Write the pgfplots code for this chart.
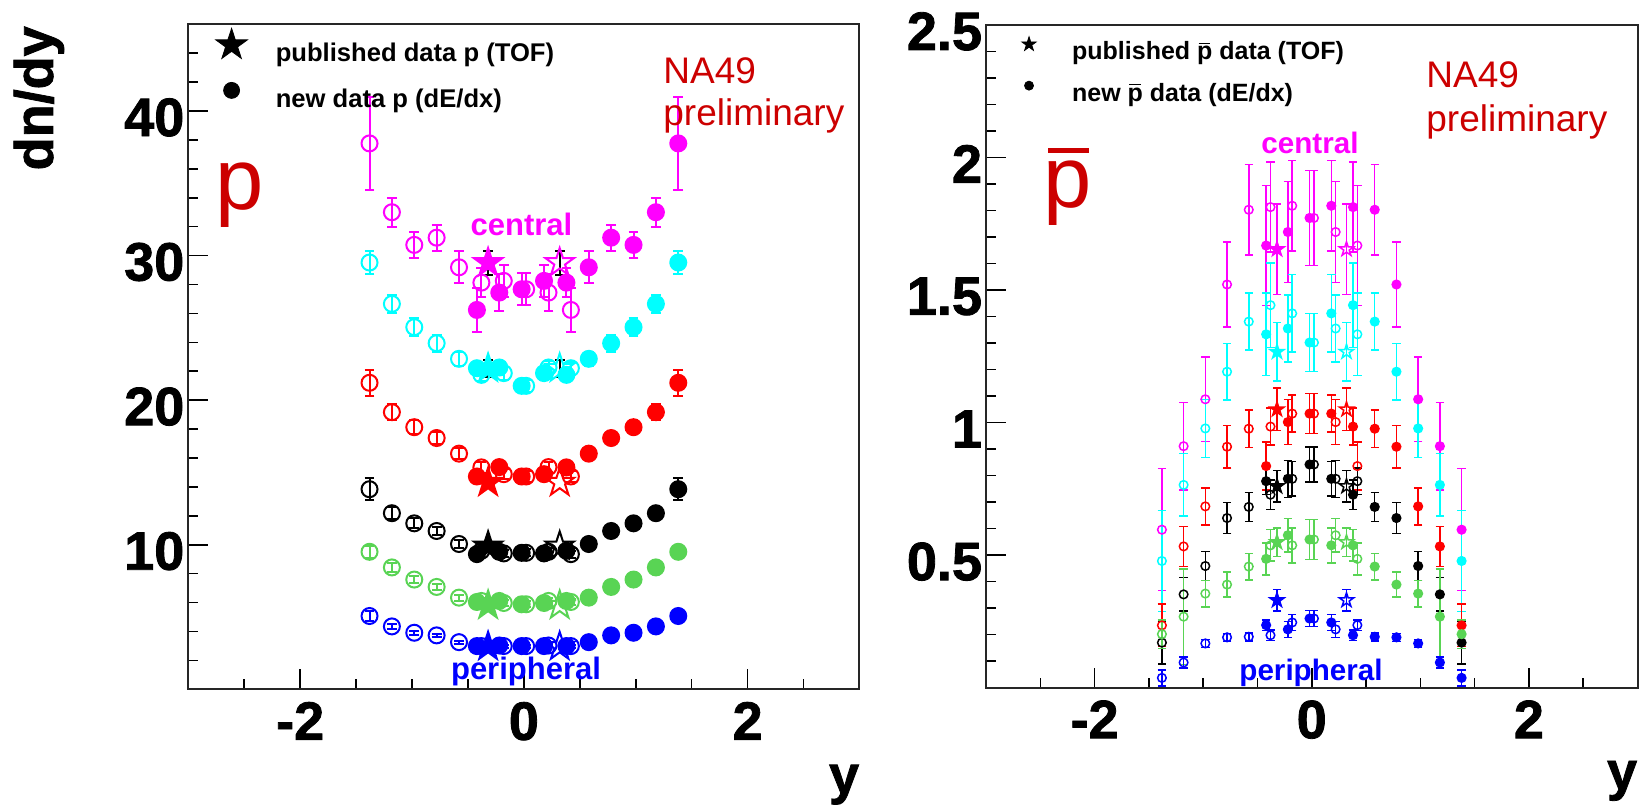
\documentclass[border=0pt]{standalone}
\usepackage{pgfplots}
\pgfplotsset{compat=1.18}
\usepackage{pgfplotstable}
\usepackage{fontspec}
\setmainfont{Liberation Sans}
\newfontfamily\heavy{Liberation Sans}[BoldFeatures={FakeBold=1.5}]

\definecolor{cmag}{RGB}{255,0,255}
\definecolor{ccya}{RGB}{0,255,255}
\definecolor{cred}{RGB}{255,0,0}
\definecolor{cblk}{RGB}{0,0,0}
\definecolor{cgrn}{RGB}{89,212,84}
\definecolor{cblu}{RGB}{0,0,255}
\definecolor{nared}{RGB}{204,0,0}

% five-pointed star marks: outline and filled
\newcommand\starpath{%
  \pgfpathmoveto{\pgfpointpolar{90}{\pgfplotmarksize}}%
  \pgfpathlineto{\pgfpointpolar{126}{0.382\pgfplotmarksize}}%
  \pgfpathlineto{\pgfpointpolar{162}{\pgfplotmarksize}}%
  \pgfpathlineto{\pgfpointpolar{198}{0.382\pgfplotmarksize}}%
  \pgfpathlineto{\pgfpointpolar{234}{\pgfplotmarksize}}%
  \pgfpathlineto{\pgfpointpolar{270}{0.382\pgfplotmarksize}}%
  \pgfpathlineto{\pgfpointpolar{306}{\pgfplotmarksize}}%
  \pgfpathlineto{\pgfpointpolar{342}{0.382\pgfplotmarksize}}%
  \pgfpathlineto{\pgfpointpolar{18}{\pgfplotmarksize}}%
  \pgfpathlineto{\pgfpointpolar{54}{0.382\pgfplotmarksize}}%
  \pgfpathclose}
\pgfdeclareplotmark{fstar}{\starpath\pgfusepathqstroke}
\pgfdeclareplotmark{fstar*}{\starpath\pgfusepathqfillstroke}

% p with an overbar (antiproton)
\newcommand\pbar{\leavevmode\rlap{\hspace{0.06em}\raisebox{0.63em}{\rule{0.47em}{0.06em}}}p}

% proton dN/dy: filled points measured, open points reflected at y=0
\pgfplotstableread{
x     mag   emag  cya   ecya  red   ered  blk   eblk  grn   egrn  blu   eblu
-0.42 26.24 1.5   22.21 0.45  14.72 0.35  9.35  0.25  6.04  0.20  2.99  0.10
-0.22 27.44 1.3   22.26 0.45  15.37 0.35  9.51  0.25  6.11  0.20  3.03  0.10
-0.02 27.67 1.1   20.99 0.40  14.72 0.35  9.44  0.25  5.88  0.20  2.99  0.10
0.18  28.25 1.1   21.87 0.45  14.88 0.35  9.40  0.25  5.97  0.20  2.99  0.10
0.38  28.13 1.0   21.75 0.45  15.35 0.40  9.58  0.25  6.11  0.20  2.99  0.10
0.58  29.19 1.1   22.86 0.48  16.30 0.40  10.05 0.27  6.34  0.20  3.26  0.11
0.78  31.24 0.9   23.94 0.58  17.38 0.43  10.95 0.31  7.08  0.23  3.73  0.12
0.98  30.74 0.9   25.05 0.63  18.13 0.49  11.48 0.35  7.59  0.27  3.91  0.15
1.18  33.00 1.0   26.66 0.63  19.17 0.54  12.18 0.40  8.43  0.31  4.35  0.17
1.38  37.76 3.2   29.52 0.77  21.20 0.90  13.84 0.75  9.51  0.43  5.07  0.34
}\protons

% antiproton dN/dy
\pgfplotstableread{
x     mag   emag  cya   ecya  red   ered  blk   eblk  grn   egrn  blu   eblu
-0.42 1.668 0.227 1.333 0.155 0.836 0.090 0.779 0.050 0.486 0.060 0.236 0.020
-0.22 1.719 0.190 1.355 0.126 1.002 0.085 0.788 0.070 0.575 0.063 0.220 0.030
-0.02 1.772 0.180 1.302 0.110 1.034 0.076 0.842 0.066 0.559 0.076 0.261 0.030
0.18  1.818 0.170 1.412 0.146 1.034 0.070 0.788 0.065 0.537 0.066 0.246 0.030
0.38  1.813 0.170 1.443 0.160 0.985 0.070 0.728 0.055 0.537 0.060 0.198 0.020
0.58  1.803 0.170 1.381 0.107 0.977 0.070 0.682 0.055 0.457 0.050 0.192 0.015
0.78  1.521 0.160 1.192 0.107 0.909 0.080 0.640 0.058 0.389 0.047 0.190 0.015
0.98  1.088 0.160 0.978 0.110 0.684 0.070 0.459 0.054 0.355 0.050 0.167 0.015
1.18  0.911 0.165 0.765 0.118 0.533 0.076 0.352 0.063 0.268 0.180 0.095 0.020
1.38  0.596 0.230 0.478 0.190 0.235 0.080 0.170 0.080 0.202 0.054 0.037 0.030
}\antiprotons

\pgfplotsset{
  panel/.style={
    scale only axis, anchor=south west,
    xmin=-3, xmax=3, ymin=0,
    axis line style={line width=1pt, black!85},
    tick align=inside, tick pos=left,
    major tick length=10pt, minor tick length=5pt,
    tick style={line width=0.8pt, black},
    xtick={-2,0,2}, xticklabels={-2,0,2},
    minor xtick={-2.5,-1.5,-1,-0.5,0.5,1,1.5,2.5},
    tick label style={font=\fontsize{27}{27}\selectfont\heavy\bfseries},
    xticklabel style={inner sep=0pt, anchor=north, yshift=-6.2pt},
    yticklabel style={inner sep=0pt, anchor=east, xshift=-1.8pt, yshift=-3.2pt},
    legend cell align=left,
    legend image code/.code={\draw[##1] plot coordinates {(0pt,4.5pt)};},
  },
  errL/.style={error bars/y dir=both, error bars/y explicit,
    error bars/error bar style={line width=1pt},
    error bars/error mark options={rotate=90, mark size=2.45pt, line width=1pt}},
  errLk/.style={error bars/y dir=both, error bars/y explicit,
    error bars/error bar style={line width=1pt, black},
    error bars/error mark options={rotate=90, mark size=2.45pt, line width=1pt, black}},
  errR/.style={error bars/y dir=both, error bars/y explicit,
    error bars/error bar style={line width=0.75pt},
    error bars/error mark options={rotate=90, mark size=2.1pt, line width=0.75pt}},
}

% one centrality class: reflected (open) and measured (filled) points
\newcommand\serL[3]{%
  \addplot[forget plot, only marks, mark=o, color=#1, mark size=4pt, mark options={line width=1pt}, errL]
    table[x expr=-\thisrow{x}, y=#2, y error=#3]{\protons};
  \addplot[forget plot, only marks, mark=*, color=#1, mark size=4pt, mark options={line width=1pt}, errL]
    table[x=x, y=#2, y error=#3]{\protons};}
\newcommand\serR[3]{%
  \addplot[forget plot, only marks, mark=o, color=#1, mark size=2.15pt, mark options={line width=0.75pt}, errR]
    table[x expr=-\thisrow{x}, y=#2, y error=#3]{\antiprotons};
  \addplot[forget plot, only marks, mark=*, color=#1, mark size=2.15pt, mark options={line width=0.75pt}, errR]
    table[x=x, y=#2, y error=#3]{\antiprotons};}
% published TOF points (filled) and their reflection (open)
\newcommand\starLe[3]{%
  \addplot[forget plot, only marks, mark=fstar*, color=#1, mark size=7.4pt, mark options={line width=1pt}, errLk]
    coordinates {(-0.32,#2) +- (0,#3)};
  \addplot[forget plot, only marks, mark=fstar, color=#1, mark size=7.4pt, mark options={line width=1pt}, errLk]
    coordinates {(0.32,#2) +- (0,#3)};}
\newcommand\starL[2]{%
  \addplot[forget plot, only marks, mark=fstar*, color=#1, mark size=7.4pt, mark options={line width=1pt}]
    coordinates {(-0.32,#2)};
  \addplot[forget plot, only marks, mark=fstar, color=#1, mark size=7.4pt, mark options={line width=1pt}]
    coordinates {(0.32,#2)};}
\newcommand\starR[3]{%
  \addplot[forget plot, only marks, mark=fstar*, color=#1, mark size=3.75pt, mark options={line width=0.75pt}, errR]
    coordinates {(-0.32,#2) +- (0,#3)};
  \addplot[forget plot, only marks, mark=fstar, color=#1, mark size=3.75pt, mark options={line width=0.75pt}, errR]
    coordinates {(0.32,#2) +- (0,#3)};}

\begin{document}
\begin{tikzpicture}
% ---------------- protons ----------------
\begin{axis}[panel,
  at={(94.15pt,58.35pt)}, width=335.6pt, height=332.5pt,
  ymax=46, ytick={10,20,30,40}, yticklabels={10,20,30,40},
  minor ytick={2,4,6,8,12,14,16,18,22,24,26,28,32,34,36,38,42,44},
  xlabel={y}, ylabel={dn/dy},
  every axis x label/.style={at={(rel axis cs:1,0)}, anchor=base east, yshift=-52pt,
    inner sep=0pt, font=\fontsize{27}{27}\selectfont\heavy\bfseries},
  every axis y label/.style={at={(rel axis cs:-0.2607,0.9975)}, anchor=north east, rotate=90,
    inner sep=0pt, font=\fontsize{27}{27}\selectfont\heavy\bfseries},
  legend style={at={(axis description cs:0.041,0.9938)}, anchor=north west,
    draw=none, fill=none, inner sep=0pt, outer sep=0pt, row sep=8.8pt,
    font=\fontsize{12.8}{15}\selectfont\bfseries, nodes={inner sep=0pt},
    /tikz/every odd column/.append style={column sep=14.2pt}},
]
\addlegendimage{only marks, mark=fstar*, mark size=8.3pt, black}
\addlegendentry{published data p (TOF)}
\addlegendimage{only marks, mark=*, mark size=4pt, black}
\addlegendentry{new data p (dE/dx)}

\serL{cmag}{mag}{emag}
\serL{ccya}{cya}{ecya}
\serL{cred}{red}{ered}
\serL{cblk}{blk}{eblk}
\serL{cgrn}{grn}{egrn}
\serL{cblu}{blu}{eblu}
\starLe{cmag}{29.5}{0.85}
\starLe{ccya}{22.2}{0.6}
\starL{cred}{14.3}
\starL{cblk}{9.9}
\starL{cgrn}{5.8}
\starL{cblu}{2.95}
\end{axis}

% ---------------- antiprotons ----------------
\begin{axis}[panel,
  at={(493pt,59.15pt)}, width=325.75pt, height=331.35pt,
  ymax=2.5, ytick={0.5,1,1.5,2,2.5}, yticklabels={0.5,1,1.5,2,2.5},
  minor ytick={0.1,0.2,0.3,0.4,0.6,0.7,0.8,0.9,1.1,1.2,1.3,1.4,1.6,1.7,1.8,1.9,2.1,2.2,2.3,2.4},
  xlabel={y},
  every axis x label/.style={at={(rel axis cs:1,0)}, anchor=base east, yshift=-50.9pt,
    inner sep=0pt, font=\fontsize{27}{27}\selectfont\heavy\bfseries},
  legend style={at={(axis description cs:0.0551,0.9822)}, anchor=north west,
    draw=none, fill=none, inner sep=0pt, outer sep=0pt, row sep=9.15pt,
    font=\fontsize{12.5}{15}\selectfont\bfseries, nodes={inner sep=0pt},
    /tikz/every odd column/.append style={column sep=18pt}},
  legend image code/.code={\draw[#1] plot coordinates {(0pt,4pt)};},
]
\addlegendimage{only marks, mark=fstar*, mark size=3.75pt, black}
\addlegendentry{published \pbar{} data (TOF)}
\addlegendimage{only marks, mark=*, mark size=2.25pt, black}
\addlegendentry{new \pbar{} data (dE/dx)}

\serR{cmag}{mag}{emag}
\serR{ccya}{cya}{ecya}
\serR{cred}{red}{ered}
\serR{cblk}{blk}{eblk}
\serR{cgrn}{grn}{egrn}
\serR{cblu}{blu}{eblu}
\starR{cmag}{1.654}{0.17}
\starR{ccya}{1.267}{0.11}
\starR{cred}{1.05}{0.08}
\starR{cblk}{0.76}{0.06}
\starR{cgrn}{0.549}{0.054}
\starR{cblu}{0.33}{0.04}
\end{axis}

% ---------------- annotations ----------------
\begin{scope}[shift={(0pt,403pt)}, x=0.5pt, y=-0.5pt]
  \begin{scope}[every node/.style={anchor=base west, inner sep=0pt, text=nared,
      font=\fontsize{18.5}{20}\selectfont}]
    \node at (663,83.3) {NA49};
    \node at (663,125.5) {preliminary};
    \node at (1426,87.3) {NA49};
    \node at (1426,132) {preliminary};
  \end{scope}
  \node[anchor=base west, inner sep=0pt, text=nared, font=\fontsize{43.4}{50}\selectfont]
    at (215.2,210) {p};
  \node[anchor=base west, inner sep=0pt, text=nared, font=\fontsize{43.4}{50}\selectfont]
    at (1042.8,208) {\pbar};
  \node[anchor=base, inner sep=0pt, text=cmag, font=\fontsize{15.5}{18}\selectfont\bfseries]
    at (521.5,236) {central};
  \node[anchor=base, inner sep=0pt, text=cblu, font=\fontsize{15.5}{18}\selectfont\bfseries]
    at (526,680) {peripheral};
  \node[anchor=base, inner sep=0pt, text=cmag, font=\fontsize{14.8}{18}\selectfont\bfseries]
    at (1310,153.5) {central};
  \node[anchor=base, inner sep=0pt, text=cblu, font=\fontsize{14.8}{18}\selectfont\bfseries]
    at (1311,680.5) {peripheral};
\end{scope}

\pgfresetboundingbox
\path[use as bounding box] (0,0) rectangle (819.5pt,403pt);
\end{tikzpicture}
\end{document}
